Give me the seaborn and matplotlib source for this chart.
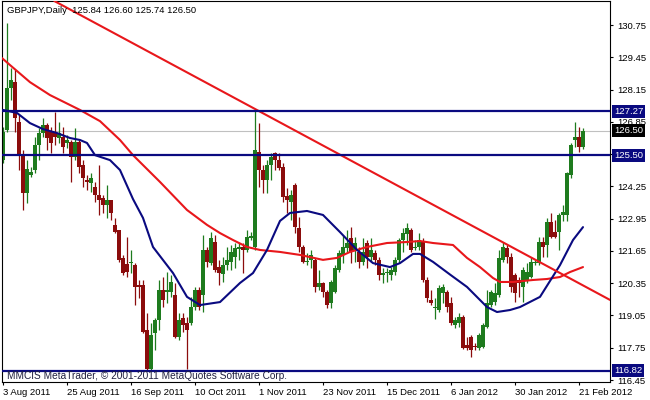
import matplotlib
matplotlib.use("Agg")
import matplotlib.pyplot as plt
import seaborn as sns
import numpy as np

# ---------------- data ----------------
opens = [125.31,126.52,128.21,128.45,126.84,125.51,123.98,124.71,124.91,125.92,
         126.40,126.72,126.44,126.44,126.20,126.24,126.00,126.04,125.43,126.04,
         125.11,124.51,124.39,124.22,123.90,123.78,123.50,123.70,122.70,122.49,
         121.37,121.13,121.17,121.09,120.28,120.28,118.47,116.90,118.35,118.87,
         120.08,120.00,120.00,119.88,118.19,118.95,118.75,118.75,119.39,120.08,
         119.87,121.69,121.17,122.00,121.00,120.72,121.08,121.20,121.40,121.73,
         121.81,121.69,122.16,121.81,125.64,124.91,124.51,125.11,125.60,125.31,
         125.03,123.86,123.62,124.30,122.57,121.81,121.20,121.29,121.29,120.20,
         120.36,120.00,119.55,120.00,120.88,121.49,121.77,122.17,121.69,121.61,
         121.20,121.97,121.40,121.57,121.29,120.68,120.76,120.68,120.80,121.29,
         122.09,122.33,122.49,121.77,121.81,122.00,120.48,119.67,119.35,119.27,
         119.96,120.00,119.55,118.67,118.75,118.99,117.86,118.19,117.80,117.74,
         117.78,118.59,119.47,119.59,119.88,121.29,121.77,121.41,120.68,120.48,
         120.20,120.48,120.60,121.17,121.17,122.00,121.89,122.82,122.41,122.41,
         123.10,123.10,124.71,126.12,126.24,125.84]
highs = [126.64,130.83,129.02,128.94,127.13,125.72,125.31,125.03,126.24,126.60,
         127.00,126.80,126.64,127.25,126.84,126.64,126.32,126.12,126.60,126.12,
         125.31,124.71,124.79,124.43,125.11,123.90,124.30,123.70,122.98,122.49,
         121.49,122.20,121.69,121.17,120.48,120.48,119.15,118.75,118.95,120.48,
         120.60,120.80,120.68,120.36,119.15,119.15,118.99,119.80,120.20,120.20,
         122.29,121.81,122.41,122.29,121.29,121.41,121.81,121.89,121.97,121.97,
         121.97,122.49,122.41,127.33,126.80,125.11,125.31,125.60,125.64,125.60,
         125.19,124.18,124.10,124.39,123.02,121.89,121.57,121.69,121.37,120.88,
         120.40,120.08,120.48,121.08,121.69,122.29,122.49,122.61,122.20,121.81,
         122.17,122.09,122.17,121.69,121.41,120.96,120.96,121.00,121.41,122.17,
         122.57,122.78,122.57,122.09,122.37,122.17,120.60,120.08,119.76,120.28,
         120.30,120.08,119.80,118.99,119.15,119.07,118.19,118.27,117.94,118.35,
         118.75,120.08,120.08,120.36,121.69,122.00,121.89,121.57,120.76,120.60,
         121.00,121.17,121.41,121.29,122.20,122.20,122.98,123.18,122.90,123.18,
         123.50,124.83,126.00,126.84,126.64,126.60]
lows = [125.19,126.44,127.73,126.44,124.91,123.30,123.58,124.63,124.79,125.31,
        126.24,125.72,125.60,125.92,126.00,125.60,125.80,124.43,125.31,124.79,
        124.22,124.10,124.02,123.62,123.10,123.18,122.98,122.90,122.37,121.20,
        120.68,120.60,120.76,119.47,119.76,118.35,116.86,116.86,117.66,118.47,
        119.40,119.55,119.80,118.15,118.06,118.39,116.90,118.67,119.27,119.27,
        119.19,121.00,121.08,120.80,120.28,120.40,120.88,120.88,120.96,121.29,
        120.76,121.61,122.09,121.69,124.22,124.00,124.00,124.51,124.91,124.91,
        123.62,123.18,122.90,122.37,121.61,121.17,121.08,120.96,120.00,120.08,
        119.80,119.35,119.35,119.96,120.80,121.17,121.61,121.17,121.20,120.96,
        121.10,120.96,121.20,121.08,120.48,120.36,120.40,120.48,120.68,121.17,
        121.61,121.89,121.61,121.69,121.69,120.40,119.59,119.47,118.91,119.19,
        119.55,119.19,118.67,118.55,118.59,117.70,117.66,117.38,117.66,117.66,
        117.74,118.55,119.39,119.47,119.80,121.20,121.17,120.00,119.59,119.80,
        119.59,120.36,120.56,121.08,121.08,121.41,121.41,122.17,122.17,121.69,
        122.86,122.86,124.59,125.84,125.64,125.74]
closes = [126.44,128.21,128.53,127.00,125.51,123.98,124.95,124.83,125.92,126.40,
          126.72,126.20,126.00,126.24,126.40,125.84,126.12,125.43,126.04,125.03,
          124.59,124.43,124.59,123.90,123.70,123.50,123.70,123.18,122.40,121.29,
          120.76,120.80,121.21,120.20,120.20,118.39,116.90,118.27,118.87,120.08,
          119.67,120.08,120.40,118.19,118.87,118.67,118.47,119.39,120.08,119.39,
          121.69,121.21,122.17,120.88,120.76,121.08,121.29,121.61,121.77,121.81,
          121.69,122.20,122.25,125.72,124.91,124.51,125.11,125.43,125.31,124.99,
          123.82,123.70,123.90,122.61,121.81,121.20,121.25,121.49,120.20,120.36,
          120.00,119.47,120.40,120.96,121.57,121.81,121.97,121.61,121.97,121.20,
          121.61,121.40,121.69,121.29,120.68,120.76,120.80,120.88,121.29,122.09,
          122.37,122.57,121.69,121.81,122.09,120.48,119.76,119.55,119.40,120.16,
          120.20,119.39,118.75,118.87,118.99,117.74,117.74,117.66,117.78,118.27,
          118.67,119.55,120.00,119.96,121.37,121.81,121.41,120.20,119.96,120.36,
          120.88,120.80,121.20,121.20,122.00,121.81,122.82,122.20,122.20,123.10,
          123.22,124.79,125.92,126.24,125.84,126.50]

# moving averages (bar index, price)
blue_ma_idx = [0, 3.5, 6.75, 10, 13.5, 16.75, 19.25, 21, 23, 26.75, 29.25, 32.5, 35,
               37.5, 42.5, 46, 49.25, 54.25, 59.25, 62.5, 66, 69.25, 71.75, 76, 80,
               84.25, 88.5, 92.5, 96.75, 99.25, 102.5, 104.25, 107.5, 111.75, 116,
               121, 123.5, 126.75, 129.25, 134.25, 139.25, 142.5, 145]
blue_ma_val = [127.33, 127.21, 126.80, 126.56, 126.40, 126.20, 126.12, 126.00, 125.51,
               125.31, 124.91, 123.74, 122.98, 121.81, 120.76, 119.80, 119.47, 119.59,
               120.36, 120.76, 121.69, 122.86, 123.18, 123.26, 123.10, 122.41, 121.69,
               121.16, 121.00, 121.16, 121.53, 121.53, 121.21, 120.70, 120.20, 119.39,
               119.19, 119.27, 119.39, 119.80, 121.08, 122.09, 122.61]
red_ma_idx = [-0.25, 1.75, 6.75, 11.75, 19.25, 24.25, 29.25, 32.5, 39.25, 46, 51,
              54.25, 57.5, 61, 64.25, 69.25, 74.25, 80, 83.5, 86.75, 91, 96, 101,
              104.25, 107.5, 112.5, 116, 119.25, 122.5, 124.25, 127.5, 132.5, 136,
              139.25, 141.75, 145]
red_ma_val = [129.42, 129.14, 128.45, 127.93, 127.33, 126.88, 126.12, 125.51, 124.43,
              123.30, 122.70, 122.37, 122.09, 121.81, 121.69, 121.61, 121.49, 121.29,
              121.37, 121.61, 121.81, 121.97, 122.01, 122.05, 121.97, 121.89, 121.37,
              121.00, 120.56, 120.40, 120.40, 120.48, 120.52, 120.60, 120.80, 121.00]

# trend line anchors (bar index, price)
trend_idx = [13.75, 151.25]
trend_val = [131.64, 119.72]

# horizontal levels
levels = [127.27, 125.50, 116.82]
bid = 126.50

date_idx = [0, 16, 32, 48, 64, 80, 96, 112, 128, 144]
date_labels = ["3 Aug 2011", "25 Aug 2011", "16 Sep 2011", "10 Oct 2011", "1 Nov 2011",
               "23 Nov 2011", "15 Dec 2011", "6 Jan 2012", "30 Jan 2012", "21 Feb 2012"]
price_ticks = [116.45, 117.75, 119.05, 120.35, 121.65, 122.95, 124.25, 125.55,
               126.85, 128.15, 129.45, 130.75]
hidden_ticks = [125.55]  # covered by the 125.50 marker in the reference

title_text = "GBPJPY,Daily  125.84 126.60 125.74 126.50"
footer_text = "MMCIS MetaTrader, \u00a9 2001-2011 MetaQuotes Software Corp."

# ---------------- style ----------------
sns.set_style("white")
plt.rcParams['font.family'] = ['Liberation Sans', 'DejaVu Sans']
FS = 6.8
GREEN = "#1e7b1e"
RED = "#8b0c0c"
NAVY = "#0a0a80"
LRED = "#e8171b"

W, H = 650, 400
fig = plt.figure(figsize=(W / 100, H / 100), dpi=100)
ax = fig.add_axes([2 / W, 18 / H, 608 / W, 381 / H])

o = np.array(opens); h = np.array(highs); l = np.array(lows); c = np.array(closes)
idx = np.arange(len(o))
up = c >= o
cols = np.where(up, GREEN, RED)

ax.vlines(idx, l, h, colors=cols, linewidth=0.9, zorder=2)
body_bot = np.minimum(o, c)
body_h = np.maximum(np.abs(c - o), 0.05)
ax.bar(idx, body_h, bottom=body_bot, width=0.8, color=cols, linewidth=0, zorder=2.1)

# bid line
ax.axhline(bid, color="#c0c0c0", linewidth=0.8, zorder=1.5)

# moving averages
sns.lineplot(x=red_ma_idx, y=red_ma_val, ax=ax, color=LRED, linewidth=1.5,
             estimator=None, sort=False, legend=False, zorder=3)
sns.lineplot(x=blue_ma_idx, y=blue_ma_val, ax=ax, color=NAVY, linewidth=1.5,
             estimator=None, sort=False, legend=False, zorder=3)

# trend line
ax.axline((trend_idx[0], trend_val[0]), (trend_idx[1], trend_val[1]),
          color=LRED, linewidth=1.5, zorder=3)

for lv in levels:
    ax.axhline(lv, color=NAVY, linewidth=1.6, zorder=3.2)

ax.set_xlim(-0.25, 151.75)
ax.set_ylim(116.37, 131.72)

# axes / ticks
for s in ax.spines.values():
    s.set_color("black")
    s.set_linewidth(0.8)
    s.set_visible(True)
ax.yaxis.tick_right()
ax.set_yticks(price_ticks)
ax.set_yticklabels(["" if p in hidden_ticks else f"{p:.2f}" for p in price_ticks],
                   fontsize=FS)
ax.set_xticks(date_idx)
ax.set_xticklabels(date_labels, fontsize=FS, ha="left")
ax.tick_params(axis="y", which="both", right=True, left=False, length=2.5,
               width=0.8, direction="out", pad=2.5, colors="black")
ax.tick_params(axis="x", which="both", bottom=True, length=2.5, width=0.8,
               direction="out", pad=1.5, colors="black")
ax.grid(False)
ax.set_xlabel("")
ax.set_ylabel("")

# price boxes on the axis
xb = 1.0 + 4 / 608
for lv, fc in [(127.27, NAVY), (125.50, NAVY), (116.82, NAVY), (bid, "black")]:
    ax.text(xb, lv, f"{lv:.2f}", transform=ax.get_yaxis_transform(), fontsize=FS,
            color="white", ha="left", va="center", clip_on=False, zorder=6,
            bbox=dict(boxstyle="square,pad=0.22", fc=fc, ec="none"))

fig.text(7 / W, 1 - 10.5 / H, title_text, fontsize=FS, color="black", ha="left", va="center")
fig.text(7 / W, 1 - 376 / H, footer_text, fontsize=7.3, color="#202040", ha="left",
         va="center", zorder=5)

fig.savefig("out.png", dpi=100)
